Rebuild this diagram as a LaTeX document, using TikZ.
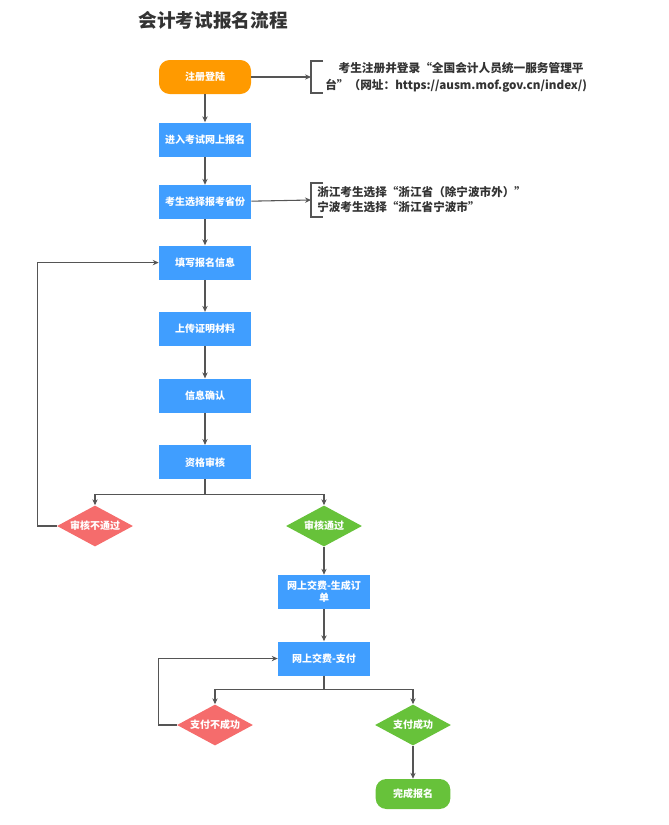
\documentclass[tikz,border=0pt]{standalone}
\usepackage{fontspec}
\setmainfont{Noto Sans CJK SC}
\usepackage{xcolor}
\usepackage{tikz}
\usetikzlibrary{positioning, arrows.meta, calc, shapes.geometric}
\definecolor{Flow_Orange}{HTML}{FF9A00}
\definecolor{Flow_Blue}{HTML}{409EFF}
\definecolor{Flow_Red}{HTML}{F56C6C}
\definecolor{Flow_Green}{HTML}{67C23A}
\definecolor{Flow_Gray}{HTML}{555555}
\definecolor{Flow_Text}{HTML}{333333}

\begin{document}
\begin{tikzpicture}[x=0.75pt, y=-0.75pt,
  every node/.style={font=\bfseries\fontsize{7.5}{9}\selectfont},
  block/.style={fill=#1, text=white, minimum height=25.5pt,
    minimum width=69pt, inner sep=2pt, align=center},
  block/.default={Flow_Blue},
  rblock/.style={block=#1, rounded corners=8pt},
  decision/.style={diamond, fill=#1, text=white, aspect=1.85, inner sep=0pt,
    minimum width=57pt, minimum height=30.75pt},
  arr/.style={-{Stealth[length=4.5pt, width=4pt]}, line width=0.8pt, Flow_Gray},
  line/.style={line width=0.8pt, Flow_Gray},
  note/.style={text=Flow_Text, align=left, inner sep=0pt, anchor=west}
]
  \useasboundingbox (0,0) rectangle (668,825);

  % Title
  \node[font=\bfseries\fontsize{14}{16}\selectfont, text=Flow_Text] (title) at (213,20) {会计考试报名流程};

  % Main column
  \node[rblock=Flow_Orange] (reg) at (205,77) {注册登陆};
  \node[block, below=21pt of reg] (enter) {进入考试网上报名};
  \node[block, below=21pt of enter] (prov) {考生选择报考省份};
  \node[block, below=19.5pt of prov] (fill) {填写报名信息};
  \node[block, below=24pt of fill] (upload) {上传证明材料};
  \node[block, below=24pt of upload] (confirm) {信息确认};
  \node[block, below=24pt of confirm] (check) {资格审核};

  % Review result
  \node[decision=Flow_Red] (nopass) at (95,526) {审核不通过};
  \node[decision=Flow_Green] (pass) at (324,526) {审核通过};

  % Payment
  \node[block] (order) at (324,592) {网上交费-生成订\\单};
  \node[block, below=24pt of order] (pay) {网上交费-支付};
  \node[decision=Flow_Red] (payfail) at (215,725) {支付不成功};
  \node[decision=Flow_Green] (payok) at (413,725) {支付成功};
  \node[rblock=Flow_Green, minimum width=56pt, minimum height=22.5pt] (done) at (413,794) {完成报名};

  % Side notes
  \coordinate (regnote) at (311,77);
  \coordinate (provnote) at (311,200);
  \draw[arr] (reg) -- (regnote);
  \draw[line] ($(regnote)+(12,-16)$) -- ($(regnote)+(0,-16)$)
    -- ($(regnote)+(0,16)$) -- ($(regnote)+(12,16)$);
  \node[note, font=\bfseries\fontsize{8.75}{12.75}\selectfont] (regtext) at (325,77)
    {\hspace*{10pt}考生注册并登录“全国会计人员统一服务管理平\\台”（网址：https://ausm.mof.gov.cn/index/)};
  \draw[arr] (prov) -- (provnote);
  \draw[line] ($(provnote)+(12,-17)$) -- ($(provnote)+(0,-17)$)
    -- ($(provnote)+(0,17)$) -- ($(provnote)+(12,17)$);
  \node[note, font=\bfseries\fontsize{8.7}{11.25}\selectfont] (provtext) at (317,200)
    {浙江考生选择“浙江省（除宁波市外）”\\宁波考生选择“浙江省宁波市”};

  % Arrows main column
  \draw[arr] (reg) -- (enter);
  \draw[arr] (enter) -- (prov);
  \draw[arr] (prov) -- (fill);
  \draw[arr] (fill) -- (upload);
  \draw[arr] (upload) -- (confirm);
  \draw[arr] (confirm) -- (check);
  % Split to review result
  \draw[line] (check.south) -- ++(0,15) coordinate (split1);
  \draw[arr] (split1) -| (nopass.north);
  \draw[arr] (split1) -| (pass.north);
  \draw[arr] (nopass.west) -- ++(-19,0) |- (fill.west);
  % Payment arrows
  \draw[arr] (pass) -- (order);
  \draw[arr] (order) -- (pay);
  \draw[line] (pay.south) -- ++(0,14) coordinate (split2);
  \draw[arr] (split2) -| (payfail.north);
  \draw[arr] (split2) -| (payok.north);
  \draw[arr] (payfail.west) -- ++(-18,0) |- (pay.west);
  \draw[arr] (payok) -- (done);
\end{tikzpicture}
\end{document}
